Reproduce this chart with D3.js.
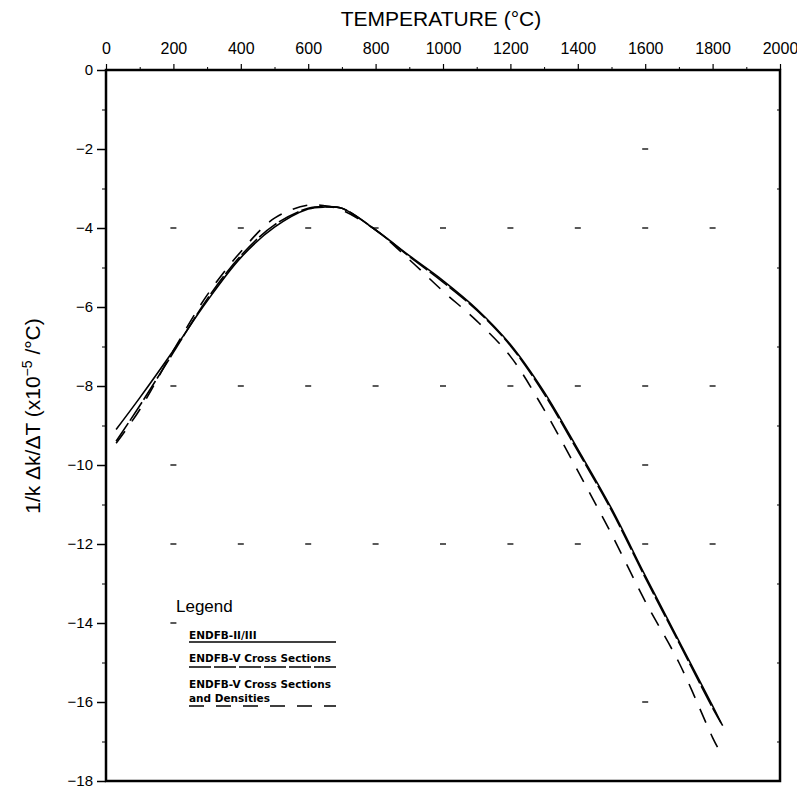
<!DOCTYPE html>
<html>
<head>
<meta charset="utf-8">
<script src="https://cdn.jsdelivr.net/npm/d3@7"></script>
<style>
  body { margin: 0; background: #fff; }
  svg { display: block; }
  text { fill: #000; }
</style>
</head>
<body>
<div id="chart"></div>
<script>
// temperatures (deg C) at which each curve was read
var temps = [30, 100, 200, 300, 400, 500, 600, 650, 700, 800, 900, 1000, 1100, 1200, 1300, 1400, 1500, 1600, 1700, 1800];

// ENDF/B-II/III (solid)
var endf23 = [-9.1, -8.3, -7.1, -5.85, -4.75, -3.98, -3.52, -3.47, -3.5, -4.05, -4.7, -5.33, -6.05, -6.95, -8.15, -9.6, -11.1, -12.8, -14.45, -16.1];
// ENDF/B-V cross sections (long dash)
var endf5xs = [-9.4, -8.5, -7.15, -5.8, -4.7, -3.92, -3.5, -3.46, -3.5, -4.05, -4.72, -5.37, -6.08, -6.98, -8.2, -9.65, -11.15, -12.85, -14.5, -16.15];
// ENDF/B-V cross sections and densities (dashed)
var endf5xsd = [-9.45, -8.6, -7.1, -5.7, -4.6, -3.75, -3.42, -3.44, -3.55, -4.05, -4.8, -5.6, -6.35, -7.25, -8.6, -10.15, -11.75, -13.45, -15.0, -16.9];

var endT = [1825, 1830, 1815];
var endV = [-16.53, -16.6, -17.15];

var xTicks = [0, 200, 400, 600, 800, 1000, 1200, 1400, 1600, 1800, 2000];
var yTicks = [0, -2, -4, -6, -8, -10, -12, -14, -16, -18];

// faint grid marks left on the plot
var gridT = [200, 400, 600, 800, 1000, 1200, 1400, 1600, 1800];
var gridV = [-4, -8, -12];
var extraMarks = [[200, -10], [1600, -10], [200, -14], [1600, -16], [1600, -2]];

var legendLabels = [["ENDFB-II/III"], ["ENDFB-V Cross Sections"], ["ENDFB-V Cross Sections", "and Densities"]];

var W = 797, H = 789;
var svg = d3.select("#chart").append("svg")
  .attr("width", W).attr("height", H);

var x = d3.scaleLinear().domain([0, 2000]).range([106, 780]);
var y = d3.scaleLinear().domain([0, -18]).range([70, 781]);

var font = "'Liberation Sans', Arial, sans-serif";

// frame
svg.append("rect")
  .attr("x", x(0)).attr("y", y(0))
  .attr("width", x(2000) - x(0)).attr("height", y(-18) - y(0))
  .attr("fill", "none").attr("stroke", "#000").attr("stroke-width", 2.5);

// top axis
var topAxis = d3.axisTop(x).tickValues(xTicks).tickSize(6).tickPadding(10)
  .tickFormat(d3.format("d"));
var gt = svg.append("g").attr("transform", "translate(0," + y(0) + ")").call(topAxis);
gt.select(".domain").remove();
gt.selectAll("line").attr("stroke-width", 1.2);
gt.selectAll("text").attr("font-family", font).attr("font-size", 16);
svg.append("g").attr("transform", "translate(0," + y(0) + ")")
  .call(d3.axisTop(x).tickValues(d3.range(100, 2000, 200)).tickSize(3).tickFormat(""))
  .call(function(g) { g.select(".domain").remove(); });

// left axis
var leftAxis = d3.axisLeft(y).tickValues(yTicks).tickSize(9).tickPadding(4)
  .tickFormat(function(d) { return d === 0 ? "0" : "\u2212" + Math.abs(d); });
var gl = svg.append("g").attr("transform", "translate(" + x(0) + ",0)").call(leftAxis);
gl.select(".domain").remove();
gl.selectAll("line").attr("stroke-width", 1.5);
gl.selectAll("text").attr("font-family", font).attr("font-size", 15);
svg.append("g").attr("transform", "translate(" + x(0) + ",0)")
  .call(d3.axisLeft(y).tickValues(d3.range(-1, -18, -2)).tickSize(4).tickFormat(""))
  .call(function(g) { g.select(".domain").remove(); });
// right side minor ticks (inside)
svg.append("g").attr("transform", "translate(" + x(2000) + ",0)")
  .call(d3.axisLeft(y).tickValues(d3.range(-1, -18, -2)).tickSize(3).tickFormat(""))
  .call(function(g) { g.select(".domain").remove(); });

// titles
svg.append("text")
  .attr("x", 441).attr("y", 26)
  .attr("text-anchor", "middle")
  .attr("font-family", font).attr("font-size", 21)
  .text("TEMPERATURE (\u00B0C)");

var yl = svg.append("text")
  .attr("transform", "translate(40," + 416 + ") rotate(-90)")
  .attr("text-anchor", "middle")
  .attr("font-family", font).attr("font-size", 21);
yl.append("tspan").text("1/k \u0394k/\u0394T (x10");
yl.append("tspan").attr("dy", -8).attr("font-size", 14).text("\u22125");
yl.append("tspan").attr("dy", 8).text(" /\u00B0C)");

// grid marks
var marks = [];
gridT.forEach(function(t) { gridV.forEach(function(v) { marks.push([t, v]); }); });
marks = marks.concat(extraMarks);
svg.append("g").selectAll("line").data(marks).enter()
  .append("line")
  .attr("x1", function(d) { return x(d[0]) - 3; })
  .attr("x2", function(d) { return x(d[0]) + 3; })
  .attr("y1", function(d) { return y(d[1]); })
  .attr("y2", function(d) { return y(d[1]); })
  .attr("stroke", "#000").attr("stroke-width", 1.3);

// curves
var series = [
  { vals: endf23, end: 0, dash: null, w: 1.6 },
  { vals: endf5xs, end: 1, dash: "22,3", w: 1.6 },
  { vals: endf5xsd, end: 2, dash: "15,12", w: 1.6 }
];
var line = d3.line()
  .x(function(d) { return x(d[0]); })
  .y(function(d) { return y(d[1]); })
  .curve(d3.curveCatmullRom.alpha(0.5));

series.forEach(function(s) {
  var pts = temps.map(function(t, i) { return [t, s.vals[i]]; });
  pts.push([endT[s.end], endV[s.end]]);
  svg.append("path")
    .datum(pts)
    .attr("d", line)
    .attr("fill", "none")
    .attr("stroke", "#000")
    .attr("stroke-width", s.w)
    .attr("stroke-dasharray", s.dash);
});

// legend
var lg = svg.append("g").attr("font-family", "'DejaVu Sans', sans-serif");
lg.append("text").attr("x", 176).attr("y", 612)
  .attr("font-family", font).attr("font-size", 17).text("Legend");

var legendY = [639, 662, 688];
var legendLineY = [642, 667, 706];
legendLabels.forEach(function(lines, i) {
  lines.forEach(function(t, j) {
    lg.append("text")
      .attr("x", 189).attr("y", legendY[i] + j * 14)
      .attr("font-size", 10.5).attr("font-weight", "bold")
      .text(t);
  });
  lg.append("line")
    .attr("x1", 189).attr("x2", 336)
    .attr("y1", legendLineY[i]).attr("y2", legendLineY[i])
    .attr("stroke", "#000").attr("stroke-width", 1.6)
    .attr("stroke-dasharray", series[i].dash);
});
</script>
</body>
</html>
